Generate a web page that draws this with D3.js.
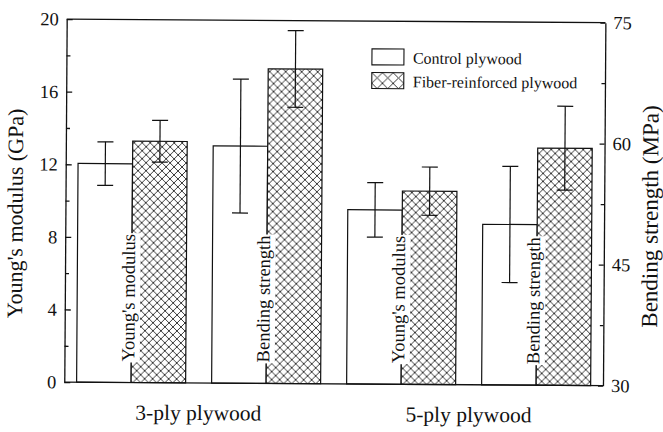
<!DOCTYPE html>
<html>
<head>
<meta charset="utf-8">
<script src="https://cdn.jsdelivr.net/npm/d3@7"></script>
<style>
  html, body { margin: 0; padding: 0; background: #fff; }
  svg { display: block; }
  svg text { font-family: 'Liberation Serif', 'Times New Roman', serif !important; fill: #111; }
</style>
</head>
<body>
<svg id="chart" width="663" height="432"></svg>
<script>
// ---- data ----
const categories = ["3-ply plywood", "5-ply plywood"];
const properties = ["Young's modulus", "Bending strength"];
const series = ["Control plywood", "Fiber-reinforced plywood"];

const youngControl = [12.05, 9.6];
const youngControlErr = [1.2, 1.5];
const youngFiber = [13.3, 10.65];
const youngFiberErr = [1.15, 1.33];

const bendControl = [59.4, 49.9];
const bendControlErr = [8.3, 7.2];
const bendFiber = [69.0, 59.4];
const bendFiberErr = [4.75, 5.2];

const leftTicks = [0, 4, 8, 12, 16, 20];
const leftMinor = [2, 6, 10, 14, 18];
const rightTicks = [30, 45, 60, 75];
const rightMinor = [37.5, 52.5, 67.5];

const leftTitle = "Young's modulus (GPa)";
const rightTitle = "Bending strength (MPa)";

// ---- layout ----
const SERIF = "'Liberation Serif', 'Times New Roman', serif";
const svg = d3.select("#chart");
const plot = { left: 65.5, right: 604.2, top: 20.85, bottom: 383.85 };

const defs = svg.append("defs");
function hatch(id, s) {
  const p = defs.append("pattern").attr("id", id)
    .attr("patternUnits", "userSpaceOnUse").attr("width", s).attr("height", s);
  p.append("rect").attr("width", s).attr("height", s).attr("fill", "#fff");
  p.append("path").attr("d", `M${-1},${-1}L${s + 1},${s + 1}M${s + 1},${-1}L${-1},${s + 1}`)
    .attr("stroke", "#222").attr("stroke-width", 0.9).attr("fill", "none");
  return p;
}
hatch("hatch", 8);
hatch("hatchL", 10.67).attr("x", 371).attr("y", 72.3);

const root = svg.append("g").attr("transform", "rotate(0.38,335,200)");

// build the groups
const groups = [];
categories.forEach((c, ci) => {
  properties.forEach((p, pi) => {
    const isY = pi === 0;
    groups.push({
      key: c + "|" + p, cat: c, prop: p, isY,
      values: [
        { s: series[0], v: isY ? youngControl[ci] : bendControl[ci], e: isY ? youngControlErr[ci] : bendControlErr[ci] },
        { s: series[1], v: isY ? youngFiber[ci] : bendFiber[ci], e: isY ? youngFiberErr[ci] : bendFiberErr[ci] }
      ]
    });
  });
});

const x0 = d3.scaleBand().domain(groups.map(g => g.key))
  .range([plot.left, plot.right]).paddingInner(0.1926).paddingOuter(0.0913);
const x1 = d3.scaleBand().domain(series).range([0, x0.bandwidth()]).padding(0);

const yL = d3.scaleLinear().domain([0, 20]).range([plot.bottom, plot.top]);
const yR = d3.scaleLinear().domain([30, 75]).range([plot.bottom, plot.top]);

// bars
const gBars = root.append("g");
groups.forEach(g => {
  const ys = g.isY ? yL : yR;
  const base = ys.domain()[0];
  const gg = gBars.append("g").attr("transform", `translate(${x0(g.key)},0)`);
  gg.selectAll("rect").data(g.values).join("rect")
    .attr("x", d => x1(d.s))
    .attr("y", d => ys(d.v))
    .attr("width", x1.bandwidth())
    .attr("height", d => ys(base) - ys(d.v))
    .attr("fill", (d, i) => i === 0 ? "#fff" : "url(#hatch)")
    .attr("stroke", "#111").attr("stroke-width", 1.2);
});

// labels inside bars (with white backgrounds)
const gLab = root.append("g");
groups.forEach(g => {
  const bx = x0(g.key) + x1.bandwidth() + 3;
  const by = plot.bottom - 21;
  const lg = gLab.append("g").attr("transform", `translate(${bx},${by}) rotate(-90)`);
  const bg = lg.append("rect").attr("fill", "#fff");
  const t = lg.append("text").attr("x", 0).attr("y", 0)
    .style("font-family", SERIF).attr("font-size", 18.5).attr("text-anchor", "start").text(g.prop);
  const bb = t.node().getBBox();
  bg.attr("x", bb.x - 1).attr("y", bb.y - 1.5).attr("width", bb.width + 2).attr("height", bb.height + 3);
});

// error bars
const gErr = root.append("g").attr("stroke", "#111").attr("stroke-width", 1.2);
groups.forEach(g => {
  const ys = g.isY ? yL : yR;
  g.values.forEach(d => {
    const cx = x0(g.key) + x1(d.s) + x1.bandwidth() / 2;
    gErr.append("line").attr("x1", cx).attr("x2", cx).attr("y1", ys(d.v - d.e)).attr("y2", ys(d.v + d.e));
    [d.v - d.e, d.v + d.e].forEach(v => {
      gErr.append("line").attr("x1", cx - 8).attr("x2", cx + 8).attr("y1", ys(v)).attr("y2", ys(v));
    });
  });
});

// axes
root.append("g").attr("transform", `translate(${plot.left},0)`)
  .call(d3.axisLeft(yL).tickValues(leftTicks).tickFormat(d3.format("d"))
    .tickSizeInner(-6).tickSizeOuter(0).tickPadding(8));
root.append("g").attr("transform", `translate(${plot.left},0)`)
  .call(d3.axisLeft(yL).tickValues(leftMinor).tickFormat("").tickSizeInner(-4).tickSizeOuter(0))
  .call(g => g.select(".domain").remove());

root.append("g").attr("transform", `translate(${plot.right},0)`)
  .call(d3.axisRight(yR).tickValues(rightTicks).tickFormat(d3.format("d"))
    .tickSizeInner(-5).tickSizeOuter(0).tickPadding(8));
root.append("g").attr("transform", `translate(${plot.right},0)`)
  .call(d3.axisRight(yR).tickValues(rightMinor).tickFormat("").tickSizeInner(-3.5).tickSizeOuter(0))
  .call(g => g.select(".domain").remove());

root.selectAll(".domain, .tick line").attr("stroke", "#111").attr("stroke-width", 1.3);
root.selectAll(".tick text").style("font-family", SERIF).attr("font-size", 18.5).attr("fill", "#111");

// top border and baseline
root.append("line").attr("x1", plot.left).attr("x2", plot.right)
  .attr("y1", plot.top).attr("y2", plot.top).attr("stroke", "#111").attr("stroke-width", 1.3);
root.append("line").attr("x1", plot.left).attr("x2", plot.right)
  .attr("y1", plot.bottom).attr("y2", plot.bottom).attr("stroke", "#111").attr("stroke-width", 1.3);

// category labels
categories.forEach(c => {
  const k1 = c + "|" + properties[0], k2 = c + "|" + properties[1];
  const cx = (x0(k1) + x0(k2) + x0.bandwidth()) / 2;
  root.append("text").attr("x", cx).attr("y", 421).style("font-family", SERIF)
    .attr("text-anchor", "middle").attr("font-size", 21.5).text(c);
});

// axis titles
root.append("text").attr("transform", "translate(22.7,215.6) rotate(-90)").style("font-family", SERIF)
  .attr("text-anchor", "middle").attr("font-size", 22).text(leftTitle);
root.append("text").attr("transform", "translate(657.9,214.4) rotate(-90)").style("font-family", SERIF)
  .attr("text-anchor", "middle").attr("font-size", 23).text(rightTitle);

// legend
const leg = root.append("g");
series.forEach((s, i) => {
  const y = 48.6 + i * 23.7;
  leg.append("rect").attr("x", 371).attr("y", y).attr("width", 32).attr("height", 16)
    .attr("fill", i === 0 ? "#fff" : "url(#hatchL)").attr("stroke", "#111").attr("stroke-width", 1.1);
  leg.append("text").attr("x", 412).attr("y", y + 14.5).style("font-family", SERIF)
    .attr("font-size", 16).text(s);
});
</script>
</body>
</html>
